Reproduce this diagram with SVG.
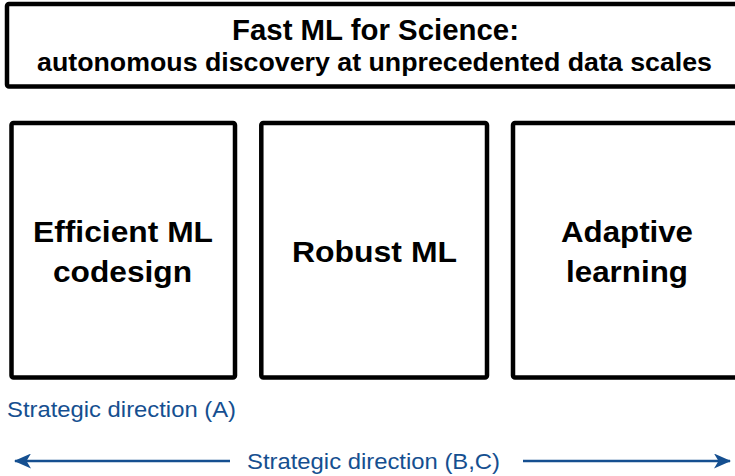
<svg xmlns="http://www.w3.org/2000/svg" width="735" height="476" viewBox="0 0 735 476">
<defs>
<style>
.box{fill:#fff;stroke:#000;stroke-width:4.5}
.t{font-family:"Liberation Sans",Arial,sans-serif;font-weight:bold;fill:#000;text-anchor:start}
.b{font-family:"Liberation Sans",Arial,sans-serif;fill:#154f90}
.conn{stroke:#154f90;stroke-width:2.5;fill:none}
</style>
<marker id="ah" viewBox="0 0 17 15" refX="16" refY="7.5" markerWidth="17" markerHeight="15" markerUnits="userSpaceOnUse" orient="auto">
<path d="M0,0 L17,7.5 L0,15 L4.5,7.5 Z" fill="#154f90"/>
</marker>
</defs>
<rect width="735" height="476" fill="#fff"/>
<g id="title">
<rect class="box" x="7" y="4" width="740" height="82.5" rx="2"/>
<text class="t" x="232" y="40" font-size="29" textLength="287" lengthAdjust="spacingAndGlyphs">Fast ML for Science:</text>
<text class="t" x="37" y="71" font-size="25.5" textLength="675" lengthAdjust="spacingAndGlyphs">autonomous discovery at unprecedented data scales</text>
</g>
<g id="efficient">
<rect class="box" x="11.5" y="123" width="223.5" height="254.5" rx="2"/>
<text class="t" x="33" y="242" font-size="30" textLength="180" lengthAdjust="spacingAndGlyphs">Efficient ML</text>
<text class="t" x="53" y="282" font-size="30" textLength="139" lengthAdjust="spacingAndGlyphs">codesign</text>
</g>
<g id="robust">
<rect class="box" x="261.3" y="123" width="225.7" height="254.5" rx="2"/>
<text class="t" x="292" y="262" font-size="30" textLength="165" lengthAdjust="spacingAndGlyphs">Robust ML</text>
</g>
<g id="adaptive">
<rect class="box" x="513" y="123" width="240" height="254.5" rx="2"/>
<text class="t" x="561" y="242" font-size="30" textLength="132" lengthAdjust="spacingAndGlyphs">Adaptive</text>
<text class="t" x="566" y="282" font-size="30" textLength="122" lengthAdjust="spacingAndGlyphs">learning</text>
</g>
<g id="labels">
<text class="b" x="7" y="417" font-size="22.5" textLength="229" lengthAdjust="spacingAndGlyphs">Strategic direction (A)</text>
<text class="b" x="247" y="469" font-size="22.5" textLength="253" lengthAdjust="spacingAndGlyphs">Strategic direction (B,C)</text>
</g>
<g id="connectors">
<line class="conn" x1="230" y1="461" x2="15" y2="461" marker-end="url(#ah)"/>
<line class="conn" x1="523" y1="461" x2="730" y2="461" marker-end="url(#ah)"/>
</g>
</svg>
